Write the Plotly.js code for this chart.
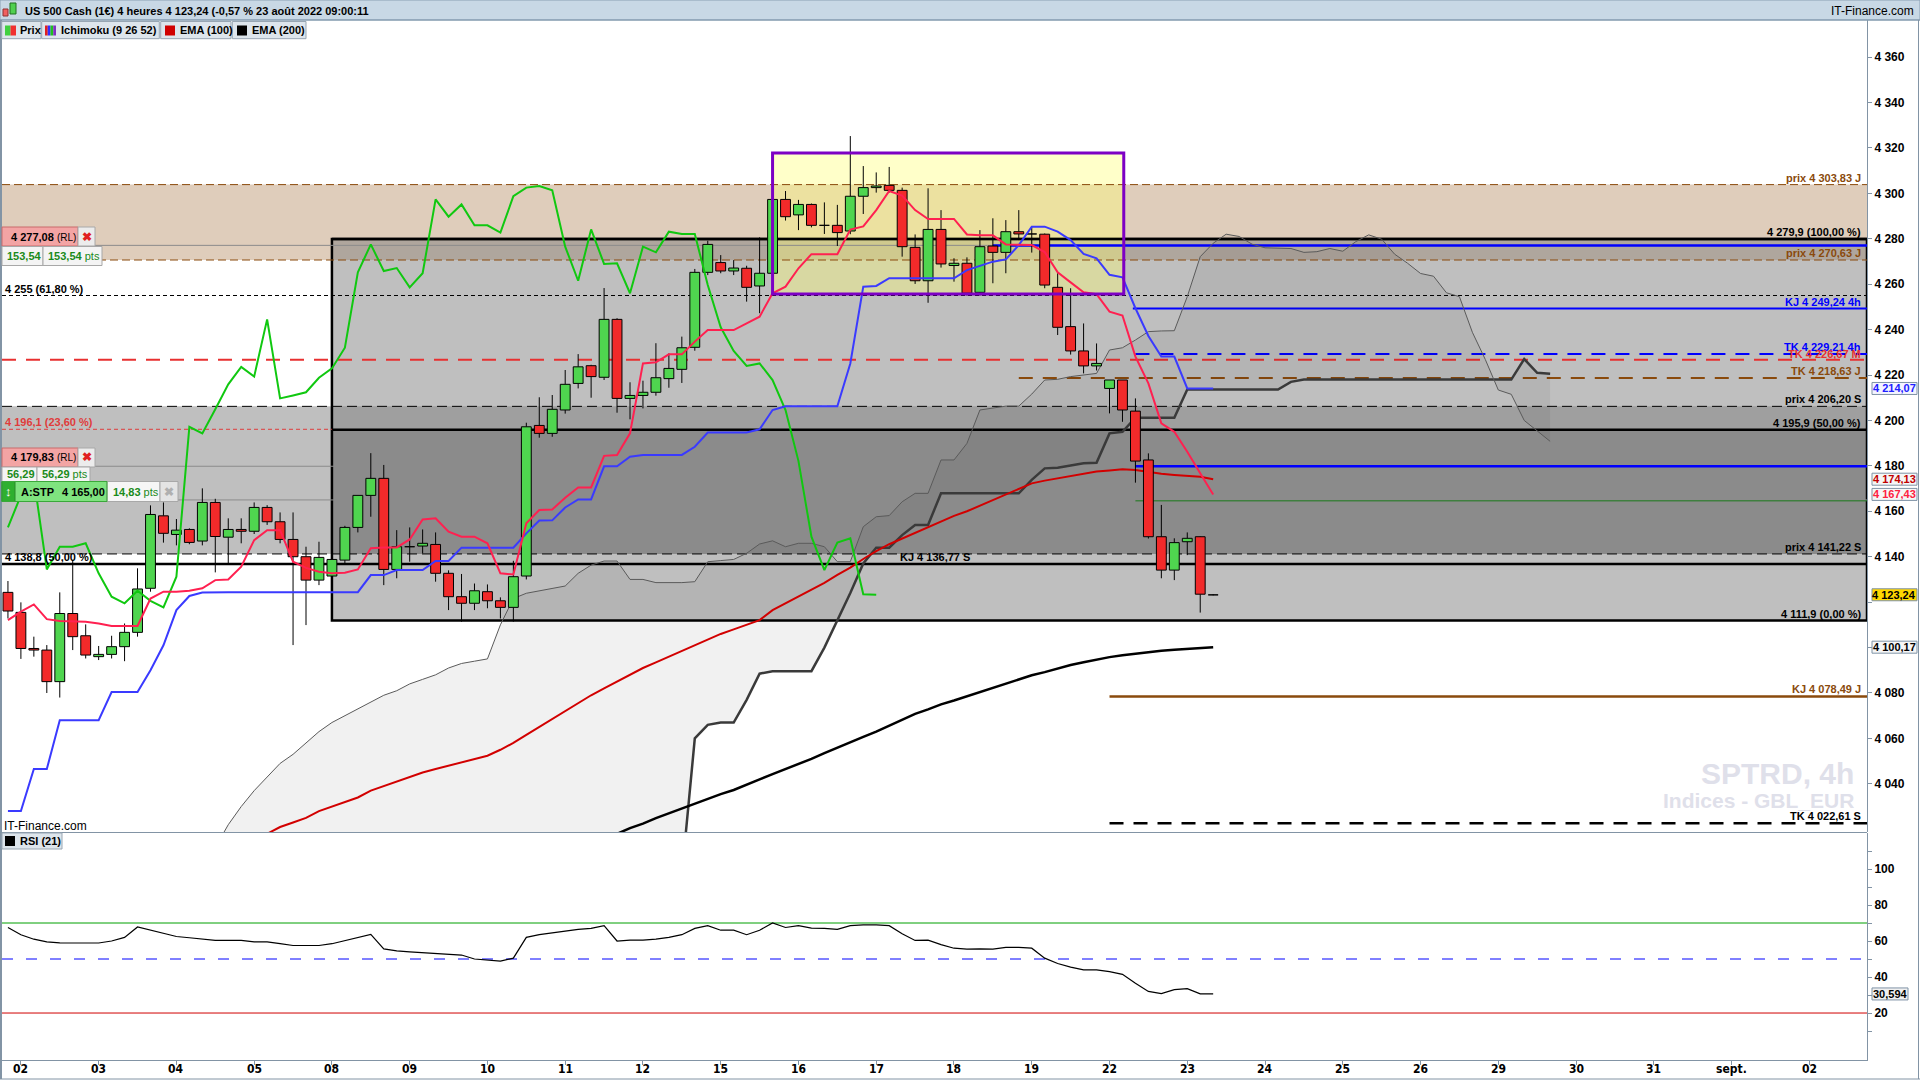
<!DOCTYPE html>
<html>
<head>
<meta charset="utf-8">
<script src="https://cdn.plot.ly/plotly-3.0.1.min.js"></script>
<style>
html,body{margin:0;padding:0;background:#ffffff;overflow:hidden;}
#chart{width:1920px;height:1080px;}
</style>
</head>
<body>
<div id="chart"></div>
<script>
// ================= DATA =================
// 4h bars, index 0 = first bar of Tue 2 Aug 2022 (6 bars per trading day); bar -1 = last bar of 1 Aug
const firstBar = -1;
const barsPerDay = 6;
const dayLabels = ['02','03','04','05','08','09','10','11','12','15','16','17','18','19','22','23','24','25','26','29','30','31','sept.','02'];

const open = [4124.3,4115.5,4099.6,4098.9,4085.0,4115.0,4105.2,4096.0,4097.0,4100.4,4106.7,4126.1,4158.0,4149.8,4152.0,4146.9,4163.9,4148.6,4152.0,4151.2,4161.7,4155.4,4147.6,4140.0,4129.7,4131.5,4138.5,4152.9,4167.0,4174.5,4134.4,4144.4,4144.7,4145.4,4132.7,4122.4,4119.5,4124.6,4120.6,4117.7,4131.5,4197.8,4194.3,4204.6,4216.3,4224.1,4219.0,4244.5,4209.7,4211.0,4212.4,4218.4,4222.5,4232.2,4265.2,4269.5,4265.8,4267.0,4259.2,4264.8,4297.3,4290.5,4295.1,4285.9,4285.9,4283.4,4298.7,4302.5,4303.5,4301.3,4276.2,4261.5,4284.1,4268.2,4269.2,4256.4,4276.8,4274.0,4283.1,4282.1,4282.0,4258.6,4241.3,4230.6,4224.0,4214.1,4217.8,4204.1,4182.6,4148.8,4134.1,4146.6,4148.8,4123.2];
const high = [4129.3,4119.9,4104.8,4101.1,4124.3,4138.5,4110.2,4100.7,4105.2,4110.6,4134.9,4162.6,4163.9,4156.6,4152.5,4170.1,4165.5,4156.9,4156.9,4163.9,4162.7,4159.5,4159.5,4144.4,4146.6,4140.7,4153.6,4167.0,4185.6,4180.4,4151.7,4152.9,4152.0,4150.7,4134.0,4132.4,4128.2,4127.8,4122.1,4138.2,4199.0,4210.2,4211.2,4222.2,4229.2,4224.5,4258.3,4245.0,4216.8,4217.5,4234.0,4229.5,4236.9,4266.7,4279.1,4272.8,4270.6,4268.1,4280.6,4297.3,4301.0,4297.1,4295.5,4296.0,4294.9,4325.2,4312.0,4309.2,4311.6,4302.5,4281.9,4302.2,4292.6,4271.4,4271.8,4283.8,4289.0,4288.2,4292.6,4285.3,4282.3,4264.8,4258.2,4242.7,4233.9,4217.8,4217.8,4209.7,4185.5,4162.8,4148.1,4150.7,4149.0,4123.5];
const low = [4112.8,4095.0,4096.0,4080.0,4078.0,4098.9,4095.2,4094.5,4095.2,4094.0,4104.8,4124.6,4146.2,4145.0,4145.5,4145.0,4133.1,4136.6,4145.9,4150.0,4154.0,4145.9,4101.1,4109.9,4127.5,4131.0,4137.1,4150.7,4157.6,4127.5,4130.5,4137.8,4141.5,4129.0,4116.5,4111.4,4116.5,4117.3,4112.8,4111.4,4130.0,4192.4,4192.8,4203.0,4214.1,4210.0,4217.8,4203.4,4200.5,4205.3,4210.9,4214.4,4216.5,4230.7,4264.0,4264.8,4264.0,4252.3,4247.2,4262.0,4288.0,4283.8,4285.0,4282.1,4276.8,4282.0,4290.9,4300.3,4300.3,4272.1,4260.1,4251.8,4267.3,4261.1,4255.0,4255.0,4260.4,4264.8,4279.4,4273.9,4258.2,4237.6,4229.0,4220.7,4222.0,4203.1,4199.4,4172.6,4148.0,4130.5,4129.7,4140.7,4115.4,4123.0];
const close = [4116.1,4099.6,4098.9,4085.0,4115.0,4104.8,4096.7,4097.0,4100.4,4106.7,4125.8,4158.6,4150.3,4151.7,4146.3,4163.9,4148.9,4152.0,4151.2,4161.7,4155.4,4147.6,4140.0,4129.7,4139.7,4138.8,4152.9,4167.0,4174.5,4134.4,4144.4,4144.4,4145.9,4132.7,4122.4,4119.5,4125.0,4120.6,4117.7,4131.2,4197.2,4194.3,4204.9,4215.9,4223.6,4219.3,4244.5,4209.7,4211.0,4212.4,4218.8,4222.9,4232.0,4265.2,4277.5,4265.8,4267.1,4258.6,4264.8,4297.3,4289.7,4295.1,4285.9,4285.9,4282.7,4298.7,4302.5,4303.2,4301.3,4276.5,4261.5,4284.1,4268.9,4269.2,4256.0,4276.5,4274.0,4283.1,4282.1,4282.1,4259.6,4241.0,4230.6,4224.0,4225.1,4217.8,4204.6,4182.1,4148.8,4134.1,4146.2,4148.1,4123.5,4123.24];

// Ichimoku (9 26 52)
const tenkan = [4112.1,4115.8,4119.0,4112.5,4111.7,4111.7,4111.4,4110.6,4109.5,4109.5,4109.5,4121.6,4124.6,4124.6,4125.0,4126.1,4129.7,4130.0,4135.6,4147.3,4151.7,4151.7,4137.8,4135.1,4133.4,4132.7,4132.9,4134.4,4143.7,4144.1,4144.1,4147.6,4156.4,4156.9,4151.0,4148.8,4148.8,4145.9,4132.7,4132.2,4154.7,4160.6,4160.8,4166.0,4170.5,4170.5,4184.4,4184.8,4194.3,4225.1,4225.6,4229.1,4229.1,4234.7,4239.8,4239.8,4239.8,4242.7,4245.7,4256.0,4258.9,4267.0,4273.2,4273.2,4273.2,4284.0,4285.4,4292.6,4301.0,4299.0,4292.6,4288.7,4288.7,4288.7,4281.9,4281.5,4281.5,4277.5,4277.3,4277.2,4274.1,4265.2,4260.8,4256.4,4255.6,4247.9,4246.2,4228.1,4216.3,4198.7,4195.0,4186.2,4176.7,4167.4];
const kijun = [4028.0,4028.0,4046.5,4046.5,4068.0,4068.0,4068.0,4068.0,4080.4,4080.4,4080.4,4090.0,4101.0,4116.5,4122.7,4124.2,4124.4,4124.4,4124.4,4124.4,4124.4,4124.4,4124.4,4124.4,4124.4,4124.4,4124.4,4124.4,4131.9,4131.9,4134.1,4134.1,4134.1,4138.1,4138.1,4144.0,4144.0,4144.0,4144.0,4144.0,4150.3,4155.9,4156.0,4161.7,4165.2,4165.2,4179.8,4179.8,4184.0,4184.8,4184.8,4184.8,4184.8,4188.4,4194.7,4194.7,4194.7,4194.7,4196.1,4204.6,4206.2,4206.2,4206.2,4206.2,4206.2,4225.1,4258.9,4259.2,4262.6,4262.6,4262.6,4262.6,4262.6,4262.6,4266.2,4268.0,4269.9,4270.9,4277.2,4285.3,4285.3,4283.1,4279.4,4273.3,4271.4,4264.1,4263.0,4249.4,4237.2,4228.1,4228.1,4214.1,4214.1,4214.1];
const chikouFirstBar = -1;
const chikou = [4152.9,4167.0,4174.5,4134.4,4144.4,4144.4,4145.9,4132.7,4122.4,4119.5,4125.0,4120.6,4117.7,4131.2,4197.2,4194.3,4204.9,4215.9,4223.6,4219.3,4244.5,4209.7,4211.0,4212.4,4218.8,4222.9,4232.0,4265.2,4277.5,4265.8,4267.1,4258.6,4264.8,4297.3,4289.7,4295.1,4285.9,4285.9,4282.7,4298.7,4302.5,4303.2,4301.3,4276.5,4261.5,4284.1,4268.9,4269.2,4256.0,4276.5,4274.0,4283.1,4282.1,4282.1,4259.6,4241.0,4230.6,4224.0,4225.1,4217.8,4204.6,4182.1,4148.8,4134.1,4146.2,4148.1,4123.5,4123.2];
const senkouFirstBar = 15;
const senkouA = [4012,4022,4030,4037,4043,4049,4053,4058,4063,4067,4070,4073,4076,4079,4081,4084,4086,4088,4091,4093,4094,4095,4110,4121.6,4123.9,4125.0,4126.1,4127.1,4132.7,4136.3,4138.1,4138.1,4130.0,4130.0,4128.6,4128.6,4128.6,4129.0,4137.8,4138.3,4138.8,4141.5,4145.6,4147.0,4144.4,4145.9,4145.9,4144.4,4137.8,4137.8,4153.2,4157.6,4158.1,4164.2,4167.9,4167.9,4182.6,4182.6,4189.9,4204.6,4205.3,4206.3,4206.3,4211.6,4217.8,4218.1,4219.3,4220.0,4220.7,4231.0,4232.0,4235.4,4239.1,4239.4,4239.5,4254.5,4272.1,4278.0,4282.0,4281.0,4277.6,4276.0,4275.7,4275.7,4274.0,4274.3,4275.7,4274.5,4278.7,4281.7,4279.8,4273.2,4269.2,4264.7,4263.5,4256.2,4254.5,4238.8,4226.8,4213.4,4211.5,4200.0,4195.4,4190.8];
const senkouB = [4000,4000,4000,4000,4000,4000,4000,4000,4000,4000,4000,4000,4000,4000,4000,4000,4000,4000,4000,4000,4000,4000,4000,4000,4000,4000,4000,4000,4000,4000,4000,4000,4000,4000,4000,4000,4000,4060,4066,4067,4067,4077,4088.5,4089.6,4089.6,4089.6,4089.6,4100,4112,4124,4137,4144,4144,4149.5,4154,4154,4167.9,4167.9,4167.9,4167.9,4167.9,4167.9,4167.9,4173.8,4178.9,4179.2,4180.2,4181.1,4181.4,4194.3,4195.0,4201.2,4201.2,4201.2,4201.2,4213.6,4213.6,4213.6,4213.6,4213.6,4213.6,4213.6,4213.6,4217,4218,4218,4218,4218,4218,4218,4218,4218,4218,4218,4218,4218,4218,4218,4218,4218,4218,4227,4221,4220.6];

// EMA
const ema100FirstBar = 18;
const ema100 = [4015,4018,4021,4023,4025,4028,4030,4032,4034,4037,4039,4041,4043,4045,4046.5,4048,4049.5,4051,4052.4,4055,4058,4061.6,4065,4068.6,4072,4075.5,4079,4082,4085,4088,4091,4093.5,4096,4098.5,4101,4103.5,4106,4108,4110,4112.1,4116.5,4119.5,4122.4,4125.5,4128.5,4132,4135.2,4139,4142.5,4145.5,4148,4150.3,4153,4155.5,4158,4160,4162.5,4165,4167.5,4170,4172.3,4173.5,4174.5,4175.8,4176.8,4177.5,4178,4178.5,4178.2,4177.2,4176.5,4176,4175.6,4175.2,4174.1];
const ema200FirstBar = 45;
const ema200 = [4015,4018,4020.5,4022.5,4024.9,4027,4029,4031.4,4033.5,4035.5,4037.3,4039.5,4042,4044.3,4046.5,4049,4051,4053.5,4056,4058.3,4060.7,4063,4065.5,4068,4070.8,4072.8,4075,4076.7,4078.5,4080.5,4082.4,4084,4086,4087.8,4089.2,4090.8,4092.3,4093.5,4094.7,4095.8,4096.6,4097.3,4098,4098.6,4099,4099.4,4099.8,4100.17];

// RSI (21)
const rsi = [67.5,63.5,61,59.5,59,58.9,58.9,58.9,60,62,67.8,66,64,62.5,61.8,61,60.3,60.3,60.3,59.5,59.5,58.5,57.5,57.5,57.5,58.5,60.3,62,63.7,55.6,54.5,54,53.5,53,52.5,52.2,50,49.5,48.8,50.5,62,63.5,64.5,65.5,66.5,67,68.5,60,60.5,60.5,61,62,63.5,67,68.5,66,66,63.5,66,70,67.5,68.5,67.2,67,66.5,68.5,69,69,68.5,64,60.3,60.5,58,56,55.5,55.6,55.5,56.5,56.5,56,50.5,47.5,45.5,44,44,43,41.5,36.5,32,30.8,33,33.5,30.6,30.594];

// axis ticks
const priceTicks = [4040,4060,4080,4100,4120,4140,4160,4180,4200,4220,4240,4260,4280,4300,4320,4340,4360];
const priceTickText = ['4 040','4 060','4 080','','','4 140','4 160','4 180','4 200','4 220','4 240','4 260','4 280','4 300','4 320','4 340','4 360'];
const rsiTicks = [10,20,30,40,50,60,70,80,90,100,110];
const rsiTickText = ['','20','','40','','60','','80','','100',''];

// last-value markers on the right axis
const markVals = [4214.07, 4174.13, 4167.43, 4123.24, 4100.17];
const markText = ['4 214,07', '4 174,13', '4 167,43', '4 123,24', '4 100,17'];
const rsiLast = 30.594, rsiLastText = '30,594';

// horizontal levels
const lvPrixJ1 = 4303.83, lvFib100 = 4279.9, lvRL1 = 4277.08, lvBlueA = 4277.0, lvPrixJ2 = 4270.63;
const lvFib618 = 4255, lvKJ4h = 4249.24, lvTK4h = 4229.21, lvTKM = 4226.67, lvTKJ = 4218.63;
const lvPrixS1 = 4206.20, lvFib236 = 4196.1, lvFib50 = 4195.9, lvRL2 = 4179.83, lvBlueB = 4179.8;
const lvStop = 4165.00, lvGreen = 4164.6, lvPrixS2 = 4141.22, lvKJS = 4136.77, lvFib0 = 4111.9;
const lvKJJ = 4078.49, lvTKS = 4022.61;
const zoneTop = 4317.7, zoneBot = 4255.7;

// ================= LAYOUT HELPERS =================
const W = 1920, H = 1080, ML = 2, MR = 53, MT = 20, MB = 20;
const PW = W - ML - MR, PH = H - MT - MB;
const pxX = x => (x - ML) / PW;
const pxY = y => (H - MB - y) / PH;
const XMIN = -1.458, XMAX = 142.45;
const YMIN = 4018.8, YMAX = 4376.3;
const PPU = (832 - 20) / (YMAX - YMIN); // px per price unit
const FONT = 'Liberation Sans, Arial, Helvetica, sans-serif';
const NARROW = 'Liberation Sans Narrow, Arial Narrow, DejaVu Sans Condensed, sans-serif';
const AXC = '#8294a5';
const BROWN = '#8a4a0c';

const seq = (first, n) => Array.from({length: n}, (_, i) => first + i);
const xs = seq(firstBar, open.length);

// candles
const wickX = [], wickY = [], upX = [], upY = [], dnX = [], dnY = [];
const HW = 0.38;
for (let i = 0; i < open.length; i++) {
  const b = xs[i], o = open[i], c = close[i];
  const top = Math.max(o, c), bot = Math.min(o, c);
  wickX.push(b, b, null, b, b, null);
  wickY.push(high[i], top, null, bot, low[i], null);
  const t = c >= o ? [upX, upY] : [dnX, dnY];
  t[0].push(b - HW, b + HW, b + HW, b - HW, b - HW, null);
  t[1].push(bot, bot, top, top, bot, null);
}

const line = (x, y, color, width, extra) => Object.assign({type:'scatter', mode:'lines', x, y, line:{color, width}, hoverinfo:'skip', xaxis:'x', yaxis:'y'}, extra || {});

const traces = [
  line(seq(senkouFirstBar, senkouB.length), senkouB, '#3a3a3a', 2.5),
  line(seq(senkouFirstBar, senkouA.length), senkouA, '#5a5a5a', 1, {fill:'tonexty', fillcolor:'rgba(0,0,0,0.055)'}),
  line(seq(ema200FirstBar, ema200.length), ema200, '#000000', 2.5),
  line(seq(ema100FirstBar, ema100.length), ema100, '#d20000', 2),
  line(wickX, wickY, '#000000', 1),
  {type:'scatter', mode:'lines', x: upX, y: upY, fill:'toself', fillcolor:'#4fd54f', line:{color:'#000', width:1}, hoverinfo:'skip'},
  {type:'scatter', mode:'lines', x: dnX, y: dnY, fill:'toself', fillcolor:'#f22a2a', line:{color:'#000', width:1}, hoverinfo:'skip'},
  line(seq(chikouFirstBar, chikou.length), chikou, '#10c810', 2),
  line(xs, kijun, '#3a3aff', 2),
  line(xs, tenkan, '#ff2050', 2),
  {type:'scatter', mode:'lines', x: xs, y: rsi, line:{color:'#000', width:1.2}, xaxis:'x2', yaxis:'y2', hoverinfo:'skip'}
];

// ================= SHAPES =================
const shapes = [];
const drect = (x0, x1, y0, y1, fill, lc, lw, layer) => shapes.push({type:'rect', xref:'x', yref:'y', x0, x1, y0, y1, fillcolor:fill, line:{color:lc || 'rgba(0,0,0,0)', width:lw || 0}, layer: layer || 'below'});
const hl = (p, color, width, dash, x0, layer) => shapes.push({type:'line', xref:'x', yref:'y', x0: (x0 === undefined || x0 === null) ? XMIN : x0, x1: XMAX, y0:p, y1:p, line:{color, width, dash: dash || 'solid'}, layer: layer || 'below'});
const prect = (x0, y0, x1, y1, fill, lc, lw, layer) => shapes.push({type:'rect', xref:'paper', yref:'paper', x0:pxX(x0), x1:pxX(x1), y0:pxY(y1), y1:pxY(y0), fillcolor:fill, line:{color:lc || 'rgba(0,0,0,0)', width:lw || 0}, layer: layer || 'above'});
const pline = (x0, y0, x1, y1, color, width, layer) => shapes.push({type:'line', xref:'paper', yref:'paper', x0:pxX(x0), x1:pxX(x1), y0:pxY(y0), y1:pxY(y1), line:{color, width}, layer: layer || 'above'});

// zones
drect(XMIN, XMAX, lvPrixJ2, lvPrixJ1, 'rgba(150,90,30,0.3)');
drect(XMIN, XMAX, lvPrixS2, lvPrixS1, 'rgba(128,128,128,0.5)');
drect(24.0, XMAX, lvFib0, lvFib100, 'rgba(128,128,128,0.5)', '#000', 2.5);
drect(24.0, XMAX, lvPrixS2, lvFib50, 'rgba(0,0,0,0.12)');
drect(58.0, 85.1, zoneBot, zoneTop, 'rgba(255,255,120,0.4)');
// levels
hl(lvPrixJ1, BROWN, 1, '8px,4px');
hl(lvRL1, '#8c8c8c', 1);
hl(lvBlueA, '#0000ff', 2.5, 'solid', 75);
hl(lvFib100, '#000', 2.5, 'solid', 24.0);
hl(lvPrixJ2, BROWN, 1, '8px,4px');
hl(lvFib618, '#000', 1, '4px,3px');
hl(lvKJ4h, '#0000ff', 2, 'solid', 85.8);
hl(lvTK4h, '#0000ff', 2, '14px,10px', 86);
hl(lvTKM, '#e83030', 2, '14px,10px');
hl(lvTKJ, BROWN, 2, '14px,10px', 77);
hl(lvPrixS1, '#000', 1, '10px,5px');
shapes.push({type:'line', xref:'x', yref:'y', x0:XMIN, x1:24.0, y0:lvFib236, y1:lvFib236, line:{color:'#e03c3c', width:1, dash:'4px,3px'}, layer:'below'});
hl(lvFib50, '#000', 2.5, 'solid', 24.0);
hl(lvRL2, '#8c8c8c', 1);
hl(lvBlueB, '#0000ff', 2.5, 'solid', 86);
hl(lvStop, '#8c8c8c', 1);
hl(lvGreen, '#1a7a1a', 1, 'solid', 86);
hl(lvPrixS2, '#000', 1, '10px,5px');
hl(lvKJS, '#000', 2.5);
hl(lvKJJ, BROWN, 2.5, 'solid', 84);
hl(lvTKS, '#000', 2.5, '14px,10px', 84);
// purple zone border above candles
shapes.push({type:'rect', xref:'x', yref:'y', x0:58.0, x1:85.1, y0:zoneBot, y1:zoneTop, fillcolor:'rgba(0,0,0,0)', line:{color:'#7d00c4', width:3}, layer:'above'});

// RSI levels
const rl = (v, color, dash) => shapes.push({type:'line', xref:'x2', yref:'y2', x0:XMIN, x1:XMAX, y0:v, y1:v, line:{color, width:1, dash: dash || 'solid'}, layer:'below'});
rl(70, '#00a000'); rl(50, '#0000ff', '11px,13px'); rl(20, '#d00000');

// frame / chrome
prect(0, 0, 1920, 20, '#c8d8e5', '#8aa0b4', 1);
pline(0, 20, 1920, 20, '#7f97ab', 1);
pline(1, 20, 1, 1079, AXC, 2);
pline(0, 832.5, 1867, 832.5, AXC, 1);
pline(0, 1079, 1920, 1079, AXC, 1);
pline(1918.5, 20, 1918.5, 1079, AXC, 1);
// title icon
prect(3, 9, 8, 16, '#f06060', '#903030', 1);
prect(10, 3, 16, 14, '#50d050', '#207020', 1);
// legend buttons
const btns = [[1.7, 41], [41.7, 159.3], [160.7, 231], [232.3, 306]];
btns.forEach(b => prect(b[0], 21.5, b[1], 38.7, '#dde5ec', '#98a6b3', 1));
prect(5, 25.5, 10.5, 35.5, '#40d040'); prect(10.5, 25.5, 16, 35.5, '#f03030');
prect(45, 25.5, 47.75, 35.5, '#e02020'); prect(47.75, 25.5, 50.5, 35.5, '#3030ff'); prect(50.5, 25.5, 53.25, 35.5, '#20c020'); prect(53.25, 25.5, 56, 35.5, '#8030c0');
prect(165, 25.5, 175, 35.5, '#d00000');
prect(237, 25.5, 247, 35.5, '#000000');
// RSI button
prect(2, 833, 62, 849, '#dde5ec', '#98a6b3', 1);
prect(5, 836, 15, 846, '#000000');
// left alert boxes
prect(2, 227, 78, 246, '#f3a4a4', '#c86a6a', 1);
prect(78, 227, 95, 246, '#ececec', '#a8a8a8', 1);
prect(2, 246.5, 43, 265.5, '#f4f4f4', '#a8a8a8', 1);
prect(43, 246.5, 102, 265.5, '#f4f4f4', '#a8a8a8', 1);
prect(2, 448, 78, 467, '#f3a4a4', '#c86a6a', 1);
prect(78, 448, 95, 467, '#ececec', '#a8a8a8', 1);
prect(2, 467, 37, 485, '#f4f4f4', '#a8a8a8', 1);
prect(37, 467, 90, 485, '#f4f4f4', '#a8a8a8', 1);
prect(2, 481.5, 107, 501.5, '#7fe37f', '#3aa83a', 1);
prect(2, 481.5, 15, 501.5, '#2fb02f', '#2a8a2a', 1);
prect(107, 481.5, 160, 501.5, '#f6f6f6', '#a8a8a8', 1);
prect(160, 481.5, 178, 501.5, '#e4e4e4', '#a8a8a8', 1);

// right-axis value boxes (drawn as shapes so they cover the tick labels)
const markColors = ['#2020ff', '#c00000', '#ff2040', '#000000', '#000000'];
const markBg = ['#f4f4ff', '#f6f6f6', '#f6f6f6', '#ffd700', '#f6f6f6'];
const halfBoxP = 6 / PPU;
markVals.forEach((v, i) => shapes.push({type:'rect', xref:'paper', yref:'y', x0:pxX(1872), x1:pxX(1917), y0:v - halfBoxP, y1:v + halfBoxP, fillcolor:markBg[i], line:{color:'#7f93a6', width:1}, layer:'above'}));
shapes.push({type:'rect', xref:'paper', yref:'y2', x0:pxX(1872), x1:pxX(1908), y0:rsiLast - 6 / 1.8, y1:rsiLast + 6 / 1.8, fillcolor:'#f0f0f0', line:{color:'#7f93a6', width:1}, layer:'above'});

// ================= ANNOTATIONS =================
const ann = [];
const ptxt = (x, y, text, size, color, xanchor, extra) => ann.push(Object.assign({xref:'paper', yref:'paper', x:pxX(x), y:pxY(y), text, showarrow:false, xanchor: xanchor || 'left', yanchor:'middle', font:{family:FONT, size: size || 11, color: color || '#000'}}, extra || {}));
const rlab = (p, text, color) => ann.push({xref:'x', yref:'y', x:XMAX, y:p, xanchor:'right', yanchor:'bottom', xshift:-4, yshift:-1, text:'<b>' + text + '</b>', showarrow:false, font:{family:FONT, size:11, color}});

ptxt(23, 11, '<b>US 500 Cash (1€) 4 heures 4 123,24 (-0,57 % 23 août 2022 09:00:11</b>', 11);
ptxt(1916, 11, 'IT-Finance.com', 12, '#000', 'right');
ptxt(18, 30.5, '<b>Prix</b>', 11);
ptxt(59, 30.5, '<b>Ichimoku (9 26 52)</b>', 11);
ptxt(178, 30.5, '<b>EMA (100)</b>', 11);
ptxt(250, 30.5, '<b>EMA (200)</b>', 11);
ptxt(18, 841, '<b>RSI (21)</b>', 11);
ptxt(2, 826, 'IT-Finance.com', 12);

rlab(lvPrixJ1, 'prix 4 303,83 J', BROWN);
rlab(lvFib100, '4 279,9 (100,00 %)', '#000');
rlab(lvPrixJ2, 'prix 4 270,63 J', BROWN);
rlab(lvKJ4h, 'KJ 4 249,24 4h', '#0000ff');
rlab(lvTK4h, 'TK 4 229,21 4h', '#0000ff');
rlab(lvTKM - 0.3, 'TK 4 226,67 M', '#e83030');
rlab(lvTKJ, 'TK 4 218,63 J', BROWN);
rlab(lvPrixS1, 'prix 4 206,20 S', '#000');
rlab(lvFib50, '4 195,9 (50,00 %)', '#000');
rlab(lvPrixS2, 'prix 4 141,22 S', '#000');
rlab(lvFib0, '4 111,9 (0,00 %)', '#000');
rlab(lvKJJ, 'KJ 4 078,49 J', BROWN);
rlab(lvTKS, 'TK 4 022,61 S', '#000');
ann.push({xref:'x', yref:'y', x:67.7, y:lvKJS, xanchor:'left', yanchor:'bottom', yshift:-1, text:'<b>KJ 4 136,77 S</b>', showarrow:false, font:{family:FONT, size:11, color:'#000'}});

// left labels
ann.push({xref:'paper', yref:'y', x:pxX(3), y:lvFib618, xanchor:'left', yanchor:'bottom', yshift:-1, text:'<b>4 255 (61,80 %)</b>', showarrow:false, font:{family:FONT, size:11, color:'#000'}});
ann.push({xref:'paper', yref:'y', x:pxX(3), y:lvFib236, xanchor:'left', yanchor:'bottom', yshift:-1, text:'<b>4 196,1 (23,60 %)</b>', showarrow:false, font:{family:FONT, size:11, color:'#e03c3c'}});
ann.push({xref:'paper', yref:'y', x:pxX(3), y:lvKJS, xanchor:'left', yanchor:'bottom', yshift:-1, text:'<b>4 138,8 (50,00 %)</b>', showarrow:false, font:{family:FONT, size:11, color:'#000'}});
ptxt(9, 236.5, '<b>4 277,08</b> <span style="font-size:10px">(RL)</span>', 11);
ptxt(86.5, 236.5, '<b>✖</b>', 12, '#e02020', 'center');
ptxt(5, 256, '<b>153,54</b>', 11, '#1a8a1a');
ptxt(46, 256, '<b>153,54</b> pts', 11, '#1a8a1a');
ptxt(9, 457.5, '<b>4 179,83</b> <span style="font-size:10px">(RL)</span>', 11);
ptxt(86.5, 457.5, '<b>✖</b>', 12, '#e02020', 'center');
ptxt(5, 474, '<b>56,29</b>', 11, '#1a8a1a');
ptxt(40, 474, '<b>56,29</b> pts', 11, '#1a8a1a');
prect(2, 481.5, 107, 501.5, 'rgba(0,0,0,0)', '#3aa83a', 1);
ptxt(8.5, 491.5, '<b>↕</b>', 13, '#ffffff', 'center');
ptxt(19, 491.5, '<b>A:STP</b>', 11, '#000');
ptxt(60, 491.5, '<b>4 165,00</b>', 11, '#000');
ptxt(111, 491.5, '<b>14,83</b> pts', 11, '#1a8a1a');
ptxt(169, 491.5, '<b>✖</b>', 12, '#b0b0b0', 'center');

// watermark
ptxt(1856, 773, '<b>SPTRD, 4h</b>', 30, '#dfe0ea', 'right');
ptxt(1856, 800, '<b>Indices - GBL_EUR</b>', 21, '#dfe0ea', 'right');

// axis value texts
markVals.forEach((v, i) => ann.push({xref:'paper', yref:'y', x:pxX(1894.5), y:v, xanchor:'center', yanchor:'middle', text:'<b>' + markText[i] + '</b>', showarrow:false, font:{family:FONT, size:11, color:markColors[i]}}));
ann.push({xref:'paper', yref:'y2', x:pxX(1890), y:rsiLast, xanchor:'center', yanchor:'middle', text:'<b>' + rsiLastText + '</b>', showarrow:false, font:{family:FONT, size:11, color:'#000'}});

// date labels under the RSI panel
dayLabels.forEach((t, i) => ann.push({xref:'x2', yref:'paper', x:i * barsPerDay, y:pxY(1069), xanchor:'center', yanchor:'middle', text:'<b>' + t + '</b>', showarrow:false, font:{family:NARROW, size:12, color:'#000'}}));

// ================= LAYOUT =================
const layout = {
  width: W, height: H,
  margin: {l: ML, r: MR, t: MT, b: MB, pad: 0},
  paper_bgcolor: '#ffffff', plot_bgcolor: '#ffffff',
  showlegend: false, hovermode: false,
  xaxis: {domain:[0,1], range:[XMIN, XMAX], anchor:'y', showticklabels:false, ticks:'', showgrid:false, zeroline:false, showline:false, fixedrange:true},
  yaxis: {domain:[pxY(832), 1], range:[YMIN, YMAX], side:'right', anchor:'x', tickmode:'array', tickvals:priceTicks, ticktext:priceTickText.map(t => t ? '<b>' + t + '</b>' : ''), ticks:'outside', ticklen:4, tickcolor:AXC, tickfont:{family:FONT, size:12, color:'#000'}, showline:true, linecolor:AXC, linewidth:1, showgrid:false, zeroline:false, fixedrange:true},
  xaxis2: {domain:[0,1], range:[XMIN, XMAX], anchor:'y2', matches:'x', tickmode:'array', tickvals:dayLabels.map((_, i) => i * barsPerDay), showticklabels:false, ticks:'outside', ticklen:4, tickcolor:AXC, showline:true, linecolor:AXC, linewidth:1, showgrid:false, zeroline:false, fixedrange:true},
  yaxis2: {domain:[0, pxY(833)], range:[-6.1, 120], side:'right', anchor:'x2', tickmode:'array', tickvals:rsiTicks, ticktext:rsiTickText.map(t => t ? '<b>' + t + '</b>' : ''), ticks:'outside', ticklen:4, tickcolor:AXC, tickfont:{family:FONT, size:12, color:'#000'}, showline:true, linecolor:AXC, linewidth:1, showgrid:false, zeroline:false, fixedrange:true},
  shapes, annotations: ann
};

Plotly.newPlot('chart', traces, layout, {displayModeBar:false, staticPlot:true});
</script>
</body>
</html>
